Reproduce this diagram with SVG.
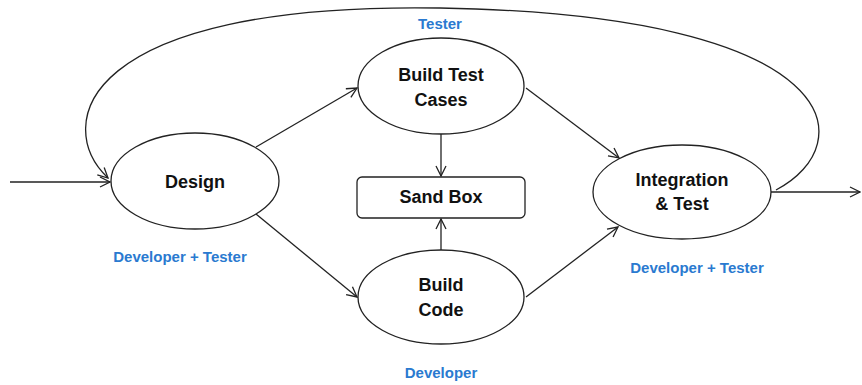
<svg xmlns="http://www.w3.org/2000/svg" width="862" height="385" viewBox="0 0 862 385">
<style>
.node{fill:#fff;stroke:#222;stroke-width:1.3}
.lbl{font-family:"Liberation Sans",Arial,sans-serif;font-weight:bold;font-size:18px;fill:#111;text-anchor:middle}
.role{font-family:"Liberation Sans",Arial,sans-serif;font-weight:bold;font-size:15px;fill:#2a7ad0;text-anchor:middle}
.edge{fill:none;stroke:#222;stroke-width:1.3;marker-end:url(#ah)}
</style>
<defs>
<marker id="ah" viewBox="0 0 12 12" refX="11" refY="6" markerWidth="12" markerHeight="12" markerUnits="userSpaceOnUse" orient="auto">
<path d="M1,1 L11,6 L1,11" fill="none" stroke="#222" stroke-width="1.3"/>
</marker>
</defs>
<g id="connectors">
<path class="edge" d="M10,182 L110,182"/>
<path class="edge" d="M771,192 L860,192"/>
<path class="edge" d="M256,147 L357,88"/>
<path class="edge" d="M256,214 L357,297"/>
<path class="edge" d="M526,88 L619,158"/>
<path class="edge" d="M526,297 L618,227"/>
<path class="edge" d="M441,134 L441,176"/>
<path class="edge" d="M441,250 L441,219"/>
<path class="edge" d="M776,190 C862,145 850,15 440,8 C80,2 52,125 108,178"/>
</g>
<g id="design">
<ellipse class="node" cx="195" cy="181" rx="84" ry="48"/>
<text class="lbl" x="195" y="188">Design</text>
</g>
<g id="build-test-cases">
<ellipse class="node" cx="441" cy="86" rx="83" ry="48"/>
<text class="lbl" x="441" y="81">Build Test</text>
<text class="lbl" x="441" y="106">Cases</text>
</g>
<g id="sand-box">
<rect class="node" x="357" y="177" width="168" height="41" rx="5"/>
<text class="lbl" x="441" y="203">Sand Box</text>
</g>
<g id="build-code">
<ellipse class="node" cx="441" cy="297" rx="83" ry="47"/>
<text class="lbl" x="441" y="291">Build</text>
<text class="lbl" x="441" y="316">Code</text>
</g>
<g id="integration-test">
<ellipse class="node" cx="682" cy="192" rx="89" ry="47"/>
<text class="lbl" x="682" y="186">Integration</text>
<text class="lbl" x="682" y="210">&amp; Test</text>
</g>
<g id="roles">
<text class="role" x="440" y="29">Tester</text>
<text class="role" x="180" y="262">Developer + Tester</text>
<text class="role" x="697" y="273">Developer + Tester</text>
<text class="role" x="441" y="378">Developer</text>
</g>
</svg>
